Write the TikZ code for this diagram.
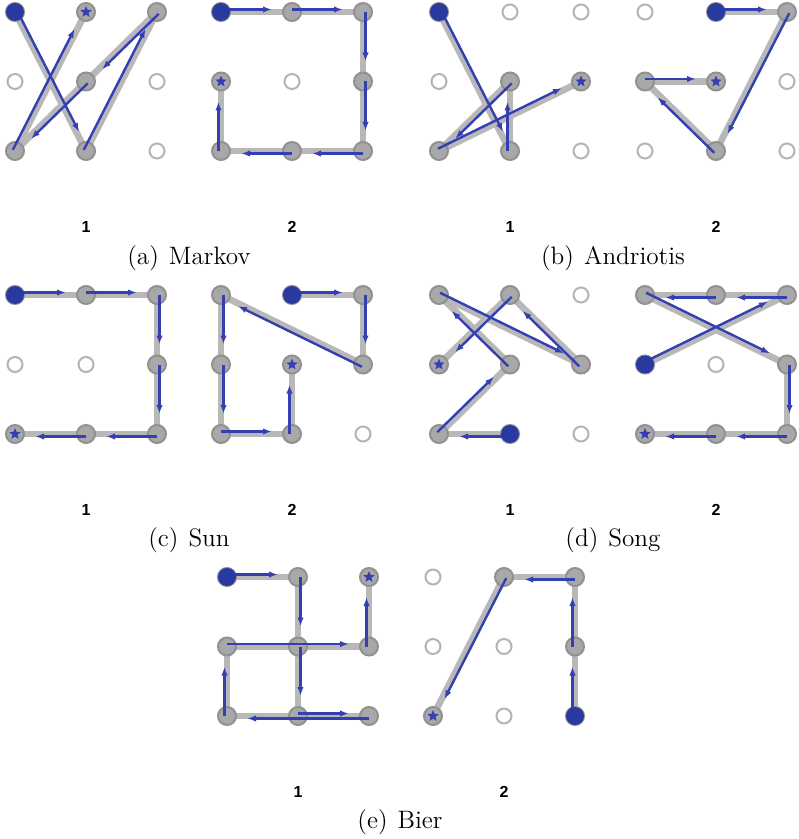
\documentclass[tikz,border=0pt]{standalone}
\usepackage{fontspec}
\newfontfamily\labfont{Liberation Sans}
\usetikzlibrary{calc,arrows.meta,shapes.geometric}
\definecolor{pblue}{RGB}{52,64,178}
\definecolor{pstart}{RGB}{40,58,160}
\definecolor{pline}{RGB}{184,184,184}
\definecolor{pring}{RGB}{180,180,180}
\definecolor{pvisfill}{RGB}{168,168,168}
\definecolor{pvisdraw}{RGB}{145,145,145}
\tikzset{
  emptydot/.style={circle, draw=pring, line width=1pt, fill=white, minimum size=7.5pt, inner sep=0pt},
  visdot/.style={circle, draw=pvisdraw, line width=1pt, fill=pvisfill, minimum size=9pt, inner sep=0pt},
  startdot/.style={circle, fill=pstart, minimum size=9pt, inner sep=0pt},
  stardot/.style={star, star points=5, star point ratio=2.3, fill=pblue, minimum size=6pt, inner sep=0pt},
  grayline/.style={pline, line width=3.3pt},
  blueline/.style={pblue, line width=1.2pt, -{Latex[length=4.5pt,width=3.2pt]}},
  numlab/.style={font=\labfont\bfseries\fontsize{8}{9}\selectfont},
  caplab/.style={font=\fontsize{12.6}{14}\selectfont},
}
\newcommand\capsep{\hspace{0.4em}}
\newcommand\drawpattern[6]{%
  \foreach \gr in {1,2,3}{\foreach \gc in {1,2,3}{%
    \node[emptydot] (#1\gr\gc) at ({#2+(\gc-1)*71},{#3+(\gr-1)*69.5}) {};
  }}%
  \foreach \n [remember=\n as \p (initially 0)] in {#4}{%
    \ifnum\p>0 \draw[grayline] (#1\p.center) -- (#1\n.center);\fi
  }%
  \foreach \n in {#4}{\node[visdot] (#1v\n) at (#1\n) {};}%
  \foreach \n [remember=\n as \p (initially 0)] in {#4}{%
    \ifnum\p>0
      \coordinate (tmpA) at ($(#1\p.center)!1.25pt!90:(#1\n.center)$);
      \coordinate (tmpE) at ($(#1\n.center)!10pt!(#1\p.center)$);
      \draw[blueline] (tmpA) -- ($(tmpE)!1.25pt!-90:(#1\p.center)$);
    \fi
  }%
  \node[startdot] (#1start) at (#1#5) {};
  \node[stardot] (#1end) at (#1#6) {};
}
\begin{document}
\begin{tikzpicture}[x=0.5pt,y=-0.5pt]
\useasboundingbox (0,0) rectangle (798,839);
\fill[white] (0,0) rectangle (798,839);
\drawpattern{aone}{15}{12}{11,32,13,22,31,12}{11}{12}
\drawpattern{atwo}{221}{12}{11,12,13,23,33,32,31,21}{11}{21}
\drawpattern{bone}{439}{12}{11,32,22,31,23}{11}{23}
\drawpattern{btwo}{645}{12}{12,13,32,21,22}{12}{22}
\drawpattern{cone}{15}{295}{11,12,13,23,33,32,31}{11}{31}
\drawpattern{ctwo}{221}{295}{12,13,23,11,21,31,32,22}{12}{22}
\drawpattern{done}{439}{295}{32,31,22,11,23,12,21}{32}{21}
\drawpattern{dtwo}{645}{295}{21,13,12,11,23,33,32,31}{21}{31}
\drawpattern{eone}{227}{577}{11,12,22,32,33,31,21,23,13}{11}{13}
\drawpattern{etwo}{433}{577}{33,23,13,12,31}{33}{31}
% labels
\node[numlab] (la1) at (86,227) {1};
\node[numlab] (la2) at (292,227) {2};
\node[numlab] (lb1) at (510,227) {1};
\node[numlab] (lb2) at (716,227) {2};
\node[caplab] (capa) at (189,258) {(a)\capsep Markov};
\node[caplab] (capb) at (613,258) {(b)\capsep Andriotis};
\node[numlab] (lc1) at (86,510) {1};
\node[numlab] (lc2) at (292,510) {2};
\node[numlab] (ld1) at (510,510) {1};
\node[numlab] (ld2) at (716,510) {2};
\node[caplab] (capc) at (189,540) {(c)\capsep Sun};
\node[caplab] (capd) at (613,540) {(d)\capsep Song};
\node[numlab] (le1) at (298,792) {1};
\node[numlab] (le2) at (504,792) {2};
\node[caplab] (cape) at (400,822) {(e)\capsep Bier};
\end{tikzpicture}
\end{document}
